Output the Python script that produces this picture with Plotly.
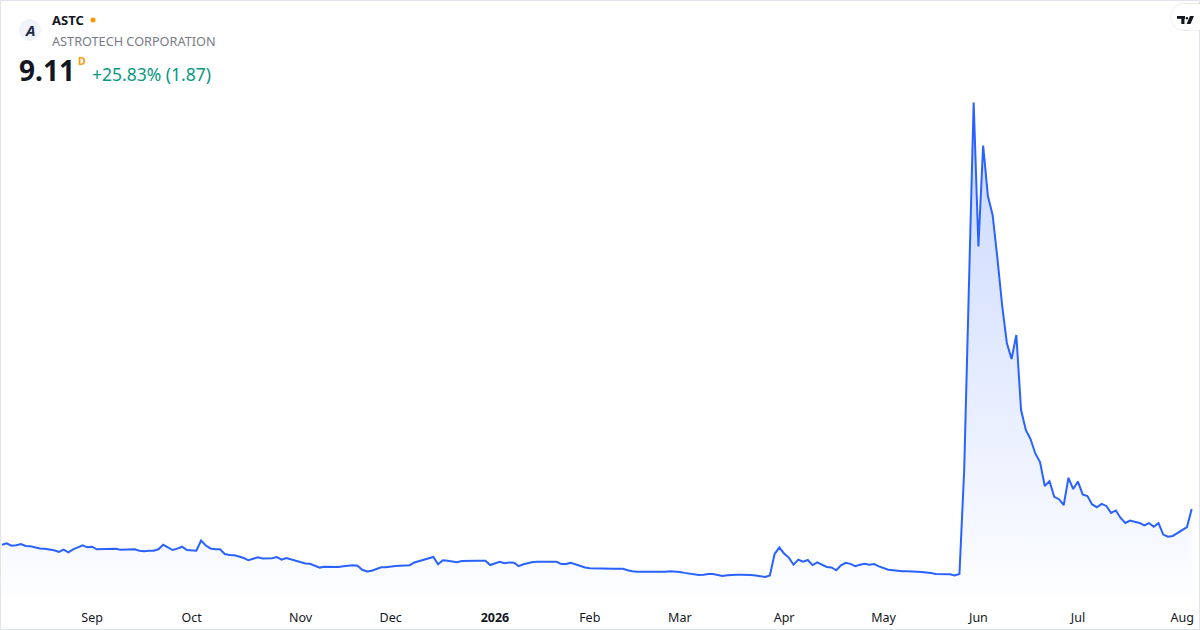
import pandas as pd
import plotly.graph_objects as go

# trading calendar (NYSE holidays removed)
holidays = ["2025-09-01", "2025-11-27", "2025-12-25", "2026-01-01", "2026-01-19",
            "2026-02-16", "2026-04-03", "2026-05-25", "2026-06-19", "2026-07-03"]
dates = pd.bdate_range("2025-08-05", "2026-08-05", freq="C",
                       holidays=holidays).strftime("%Y-%m-%d").tolist()

# daily closes
aug25 = [5.40, 5.55, 5.30, 5.34, 5.47, 5.27, 5.23, 5.11, 5.01, 4.97, 4.90, 4.82, 4.64,
         4.88, 4.61, 4.92, 5.13, 5.34, 5.13]
sep25 = [5.19, 4.92, 4.92, 4.92, 4.93, 4.99, 4.88, 4.88, 4.90, 4.92, 4.77, 4.72, 4.78,
         4.78, 4.92, 5.40, 5.13, 4.85, 4.99, 5.19, 4.85]
oct25 = [4.78, 4.78, 5.84, 5.32, 5.01, 4.92, 4.92, 4.43, 4.33, 4.30, 4.17, 4.02, 3.78,
         3.94, 4.09, 3.96, 3.98, 3.99, 4.12, 3.84, 4.02, 3.88, 3.79]
nov25 = [3.66, 3.45, 3.42, 3.23, 3.02, 3.11, 3.11, 3.09, 3.08, 3.16, 3.22, 3.27, 3.21,
         2.79, 2.61, 2.69, 2.87, 3.05, 3.06]
dec25 = [3.15, 3.19, 3.22, 3.22, 3.27, 3.55, 3.69, 3.83, 3.97, 4.12, 3.37, 3.78, 3.73,
         3.64, 3.58, 3.71, 3.74, 3.75, 3.74, 3.73, 3.74, 3.29]
jan26 = [3.50, 3.63, 3.48, 3.56, 3.53, 3.17, 3.37, 3.52, 3.60, 3.63, 3.63, 3.64, 3.66,
         3.62, 3.39, 3.39, 3.51, 3.33, 3.16, 3.03]
feb26 = [2.95, 2.93, 2.90, 2.94, 2.92, 2.90, 2.90, 2.89, 2.74, 2.63, 2.60, 2.59, 2.59,
         2.59, 2.59, 2.57, 2.58, 2.63, 2.63]
mar26 = [2.57, 2.47, 2.40, 2.27, 2.25, 2.27, 2.36, 2.36, 2.23, 2.16, 2.22, 2.27, 2.28,
         2.28, 2.28, 2.24, 2.20, 2.15, 2.04, 2.21, 4.43, 5.11]
apr26 = [4.49, 4.06, 3.32, 3.85, 3.64, 3.81, 3.28, 3.57, 3.30, 3.09, 3.03, 2.74, 3.25,
         3.52, 3.41, 3.17, 3.31, 3.42, 3.32, 3.38, 3.15]
may26 = [2.95, 2.80, 2.75, 2.69, 2.65, 2.65, 2.65, 2.60, 2.57, 2.53, 2.46, 2.36, 2.33,
         2.33, 2.33, 2.20, 2.36, 13.17, 31.58, 51.39]
jun26 = [36.41, 46.92, 41.67, 39.69, 35.22, 30.33, 26.38, 24.71, 27.21, 19.41, 17.33,
         16.39, 14.89, 14.00, 11.51, 12.01, 10.38, 10.13, 9.53, 12.36, 11.19]
jul26 = [11.97, 10.63, 10.46, 9.59, 9.30, 9.65, 9.43, 8.70, 8.96, 8.18, 7.66, 7.91, 7.76,
         7.66, 7.40, 7.65, 7.26, 7.65, 6.45, 6.23, 6.31, 6.63]
aug26 = [6.92, 7.24, 9.11]

prices = aug25 + sep25 + oct25 + nov25 + dec25 + jan26 + feb26 + mar26 + apr26 + may26 + jun26 + jul26 + aug26

tick_dates = ["2025-09-02", "2025-10-01", "2025-11-03", "2025-12-01", "2026-01-02", "2026-02-02",
              "2026-03-02", "2026-04-01", "2026-05-01", "2026-06-01", "2026-07-01", "2026-08-03"]
tick_text = ["Sep", "Oct", "Nov", "Dec", "<b>2026</b>", "Feb", "Mar", "Apr", "May", "Jun", "Jul", "Aug"]

W, H = 1200, 630
ML, MR, MT, MB = 0, 6, 0, 30
PW, PH = W - ML - MR, H - MT - MB
FONT = "Noto Sans"


def px(x):
    return (x - ML) / PW


def py(y):
    return (MT + PH - y) / PH


fig = go.Figure()
fig.add_trace(go.Scatter(
    x=dates, y=prices, mode="lines",
    line=dict(color="#2962ff", width=2),
    fill="tozeroy",
    fillgradient=dict(type="vertical",
                      colorscale=[[0, "rgba(41,98,255,0.01)"], [1, "rgba(41,98,255,0.26)"]],
                      start=0, stop=max(prices)),
    hoverinfo="x+y",
))

annotations = [
    dict(x=px(30.5), y=py(30), text="<b><i>A</i></b>", font=dict(family=FONT, size=15, color="#1c2b4a"),
         xanchor="center", yanchor="middle"),
    dict(x=px(50), y=py(20), text="<b>ASTC</b>", font=dict(family=FONT, size=13, color="#131722"),
         xanchor="left", yanchor="middle"),
    dict(x=px(50), y=py(40.5), text="ASTROTECH CORPORATION", font=dict(family=FONT, size=12.7, color="#787b86"),
         xanchor="left", yanchor="middle"),
    dict(x=px(17), y=py(70), text="<b>9.11</b>", font=dict(family=FONT, size=28, color="#131722"),
         xanchor="left", yanchor="middle"),
    dict(x=px(76), y=py(61), text="<b>D</b>", font=dict(family=FONT, size=10.5, color="#ff9800"),
         xanchor="left", yanchor="middle"),
    dict(x=px(90), y=py(74), text="+25.83% (1.87)", font=dict(family=FONT, size=17.5, color="#089981"),
         xanchor="left", yanchor="middle"),
]
for a in annotations:
    a.update(xref="paper", yref="paper", showarrow=False)

shapes = [
    # card border
    dict(type="rect", x0=px(0.5), x1=px(1199.5), y0=py(629.5), y1=py(0.5),
         line=dict(color="#e0e3eb", width=1), fillcolor="rgba(0,0,0,0)"),
    # logo badge
    dict(type="circle", x0=px(19), x1=px(41), y0=py(41), y1=py(19),
         line=dict(width=0), fillcolor="#f0f3fa"),
    # live dot
    dict(type="circle", x0=px(90.5), x1=px(95.5), y0=py(22.5), y1=py(17.5),
         line=dict(width=0), fillcolor="#ff9800"),
    # TradingView badge shadow + pill
    dict(type="circle", x0=px(1170), x1=px(1198), y0=py(31), y1=py(3),
         line=dict(width=0), fillcolor="rgba(0,0,0,0.06)"),
    dict(type="rect", x0=px(1184), x1=px(1200), y0=py(31), y1=py(3),
         line=dict(width=0), fillcolor="rgba(0,0,0,0.06)"),
    dict(type="circle", x0=px(1171), x1=px(1197), y0=py(30), y1=py(4),
         line=dict(width=0), fillcolor="#ffffff"),
    dict(type="rect", x0=px(1184), x1=px(1200), y0=py(30), y1=py(4),
         line=dict(width=0), fillcolor="#ffffff"),
    # TV glyph
    dict(type="rect", x0=px(1177), x1=px(1185), y0=py(18.8), y1=py(16),
         line=dict(width=0), fillcolor="#131722"),
    dict(type="rect", x0=px(1181.3), x1=px(1184.5), y0=py(24), y1=py(16),
         line=dict(width=0), fillcolor="#131722"),
    dict(type="circle", x0=px(1185.6), x1=px(1188.2), y0=py(19.6), y1=py(17),
         line=dict(width=0), fillcolor="#131722"),
    dict(type="path",
         path="M {} {} L {} {} L {} {} L {} {} Z".format(px(1190), py(16), px(1194), py(16),
                                                         px(1190.5), py(24), px(1186.6), py(24)),
         line=dict(width=0), fillcolor="#131722"),
]
for s in shapes:
    s.update(xref="paper", yref="paper", layer="above")

fig.update_layout(
    width=W, height=H,
    margin=dict(l=ML, r=MR, t=MT, b=MB),
    paper_bgcolor="#ffffff", plot_bgcolor="#ffffff",
    showlegend=False,
    font=dict(family=FONT, color="#131722"),
    xaxis=dict(type="category", range=[-0.422, 251.485], tickmode="array",
               tickvals=tick_dates, ticktext=tick_text, showgrid=False, zeroline=False,
               showline=False, ticks="", ticklabelstandoff=8,
               tickfont=dict(family=FONT, size=12.5, color="#131722")),
    yaxis=dict(range=[-0.35, 62.05], visible=False, showgrid=False, zeroline=False),
    annotations=annotations,
    shapes=shapes,
)

# drop the default page margin so the card fills the window
fig.write_html("out.html", config={"displayModeBar": False},
               post_script="document.body.style.margin='0';document.body.style.padding='0';")
